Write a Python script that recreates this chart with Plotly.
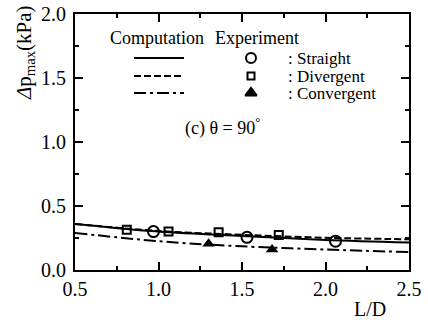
import plotly.graph_objects as go

# Computation curves
comp_x = [0.5, 1.0, 1.5, 2.0, 2.5]
comp_straight = [0.36, 0.30, 0.265, 0.235, 0.215]
comp_divergent = [0.36, 0.305, 0.275, 0.252, 0.24]
comp_convergent = [0.29, 0.225, 0.185, 0.16, 0.14]

# Experiment points
exp_straight_x = [0.97, 1.53, 2.06]
exp_straight_y = [0.30, 0.255, 0.225]
exp_divergent_x = [0.81, 1.06, 1.36, 1.72]
exp_divergent_y = [0.315, 0.30, 0.295, 0.273]
exp_convergent_x = [1.30, 1.68]
exp_convergent_y = [0.205, 0.16]

legend_labels = [": Straight", ": Divergent", ": Convergent"]

FONT = "Liberation Serif"
BLACK = "black"
DASHES = ["solid", "7px,3px", "12px,4px,3px,4px"]

fig = go.Figure()
for ys, d in zip([comp_straight, comp_divergent, comp_convergent], DASHES):
    fig.add_trace(go.Scatter(x=comp_x, y=ys, mode="lines", line=dict(color=BLACK, width=2, dash=d), line_shape="spline"))
fig.add_trace(go.Scatter(x=exp_straight_x, y=exp_straight_y, mode="markers",
                         marker=dict(symbol="circle-open", size=11, color=BLACK, line=dict(width=2))))
fig.add_trace(go.Scatter(x=exp_divergent_x, y=exp_divergent_y, mode="markers",
                         marker=dict(symbol="square-open", size=8, color=BLACK, line=dict(width=2))))
fig.add_trace(go.Scatter(x=exp_convergent_x, y=exp_convergent_y, mode="markers",
                         marker=dict(symbol="triangle-up", size=11, color=BLACK)))

L, R, T, B = 75, 19, 14, 50
W, H = 428, 320
pw, ph = W - L - R, H - T - B

def px(x):
    return (x - L) / pw

def py(y):
    return (H - B - y) / ph

shapes = []
rows = [58, 76, 93]
for d, yy in zip(DASHES, rows):
    shapes.append(dict(type="line", xref="paper", yref="paper", x0=px(134), x1=px(184), y0=py(yy), y1=py(yy),
                       line=dict(color=BLACK, width=2, dash=d)))

annotations = [
    dict(text="Computation", x=px(108), y=py(38), xanchor="left", yanchor="middle", size=18),
    dict(text="Experiment", x=px(213), y=py(38), xanchor="left", yanchor="middle", size=18),
    dict(text="(c) θ = 90<sup>°</sup>", x=px(183), y=py(127), xanchor="left", yanchor="middle", size=18),
    dict(text="<i>Δ</i>p<sub>max</sub>(kPa)", x=px(25), y=py(53), xanchor="center", yanchor="middle", textangle=-90, size=21),
    dict(text="L/D", x=px(370), y=py(309), xanchor="center", yanchor="middle", size=20),
]
for lab, yy in zip(legend_labels, rows):
    annotations.append(dict(text=lab, x=px(286), y=py(yy), xanchor="left", yanchor="middle", size=17))

ann_list = []
for a in annotations:
    size = a.pop("size", 16)
    ann_list.append(dict(xref="paper", yref="paper", showarrow=False, font=dict(family=FONT, size=size, color=BLACK), **a))

# legend markers (paper-positioned sample symbols)
leg_syms = ["circle-open", "square-open", "triangle-up"]
leg_sizes = [10, 7, 10]
for s, sz, yy in zip(leg_syms, leg_sizes, rows):
    fig.add_trace(go.Scatter(x=[px(251)], y=[py(yy)], xaxis="x2", yaxis="y2", mode="markers",
                             marker=dict(symbol=s, size=sz, color=BLACK, line=dict(width=2, color=BLACK))))

axis_common = dict(showgrid=False, zeroline=False, showline=True, linecolor=BLACK, linewidth=2,
                   mirror="ticks", ticks="inside", ticklen=8, tickwidth=2, tickcolor=BLACK, automargin=False,
                   tickfont=dict(family=FONT, size=20, color=BLACK),
                   minor=dict(ticks="inside", ticklen=4, tickwidth=2, tickcolor=BLACK, dtick=0.25))

fig.update_layout(
    width=W, height=H, margin=dict(l=L, r=R, t=T, b=B),
    paper_bgcolor="white", plot_bgcolor="white", showlegend=False,
    xaxis=dict(range=[0.5, 2.5], dtick=0.5, tickformat=".1f", **axis_common),
    yaxis=dict(range=[0, 2.0], dtick=0.5, tickformat=".1f", ticklabelstandoff=3, **axis_common),
    xaxis2=dict(range=[0, 1], overlaying="x", visible=False, domain=[0, 1]),
    yaxis2=dict(range=[0, 1], overlaying="y", visible=False, domain=[0, 1]),
    shapes=shapes, annotations=ann_list,
)

fig.write_html("out.html", config={"displayModeBar": False},
               post_script="document.body.style.margin='0';document.body.style.padding='0';")
